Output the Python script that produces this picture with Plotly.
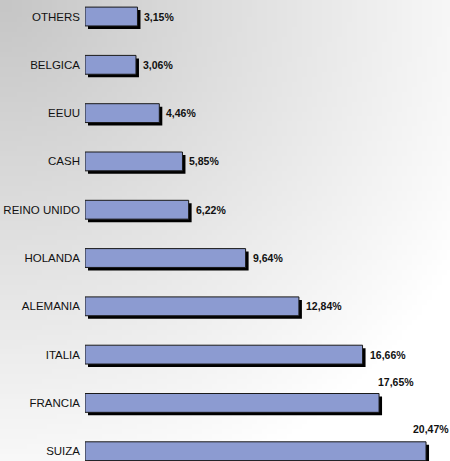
import base64, struct, zlib
import numpy as np
import plotly.graph_objects as go

categories = ["OTHERS", "BELGICA", "EEUU", "CASH", "REINO UNIDO",
              "HOLANDA", "ALEMANIA", "ITALIA", "FRANCIA", "SUIZA"]
values = [3.15, 3.06, 4.46, 5.85, 6.22, 9.64, 12.84, 16.66, 17.65, 20.47]
labels = [f"{v:.2f}".replace(".", ",") + "%" for v in values]

W, H = 450, 461
L = 85
PW = W - L


def gradient_png(w, h, step):
    ys, xs = np.mgrid[0:h, 0:w]
    r = np.sqrt((xs * step) ** 2 + (ys * step) ** 2)
    v = np.clip(198 + 0.11 * r, 0, 255).astype(np.uint8)
    raw = b"".join(b"\x00" + v[i].tobytes() for i in range(h))
    def chunk(tag, data):
        c = struct.pack(">I", len(data)) + tag + data
        return c + struct.pack(">I", zlib.crc32(tag + data) & 0xffffffff)
    png = b"\x89PNG\r\n\x1a\n"
    png += chunk(b"IHDR", struct.pack(">IIBBBBB", w, h, 8, 0, 0, 0, 0))
    png += chunk(b"IDAT", zlib.compress(raw, 9))
    png += chunk(b"IEND", b"")
    return "data:image/png;base64," + base64.b64encode(png).decode()


bg = gradient_png(90, 93, 5)

bar_w = 0.39
fig = go.Figure()
# shadow
fig.add_trace(go.Bar(
    y=categories, x=values, base=0.18, orientation="h",
    width=bar_w, offset=-bar_w / 2 + 0.062,
    marker=dict(color="#000000", line=dict(width=0)),
    hoverinfo="skip", showlegend=False,
))
# main bars
fig.add_trace(go.Bar(
    y=categories, x=values, orientation="h",
    width=bar_w, offset=-bar_w / 2,
    marker=dict(color="#8C9BD1", line=dict(color="#1a1a1a", width=1)),
    showlegend=False,
))

special = {"FRANCIA": dict(xanchor="center", xshift=17, yshift=21),
           "SUIZA": dict(xanchor="center", xshift=5, yshift=22)}
for c, v, t in zip(categories, values, labels):
    pos = special.get(c, dict(xanchor="left", xshift=5, yshift=0))
    fig.add_annotation(x=v, y=c, text=f"<b>{t}</b>", showarrow=False,
                       yanchor="middle",
                       font=dict(family="Liberation Sans, Arial", size=10.5, color="#111"),
                       **pos)

fig.add_layout_image(dict(
    source=bg, xref="paper", yref="paper",
    x=-L / PW, y=1, sizex=W / PW, sizey=1,
    xanchor="left", yanchor="top", sizing="stretch", layer="below",
))

fig.update_layout(
    width=W, height=H,
    margin=dict(l=L, r=0, t=0, b=0),
    paper_bgcolor="white", plot_bgcolor="rgba(0,0,0,0)",
    barmode="overlay",
    font=dict(family="Liberation Sans, Arial", size=11, color="#111"),
    xaxis=dict(range=[0, PW / 16.66], visible=False, showgrid=False, zeroline=False),
    yaxis=dict(type="category", categoryorder="array", categoryarray=categories,
               range=[-0.342 + H / 48.3, -0.342], showgrid=False, zeroline=False,
               showline=False, ticks="", ticklabelstandoff=4,
               tickfont=dict(family="Liberation Sans, Arial", size=11.5, color="#111")),
)

fig.write_html("out.html",
               config={"displayModeBar": False},
               post_script="document.body.style.margin='0';document.body.style.overflow='hidden';")
